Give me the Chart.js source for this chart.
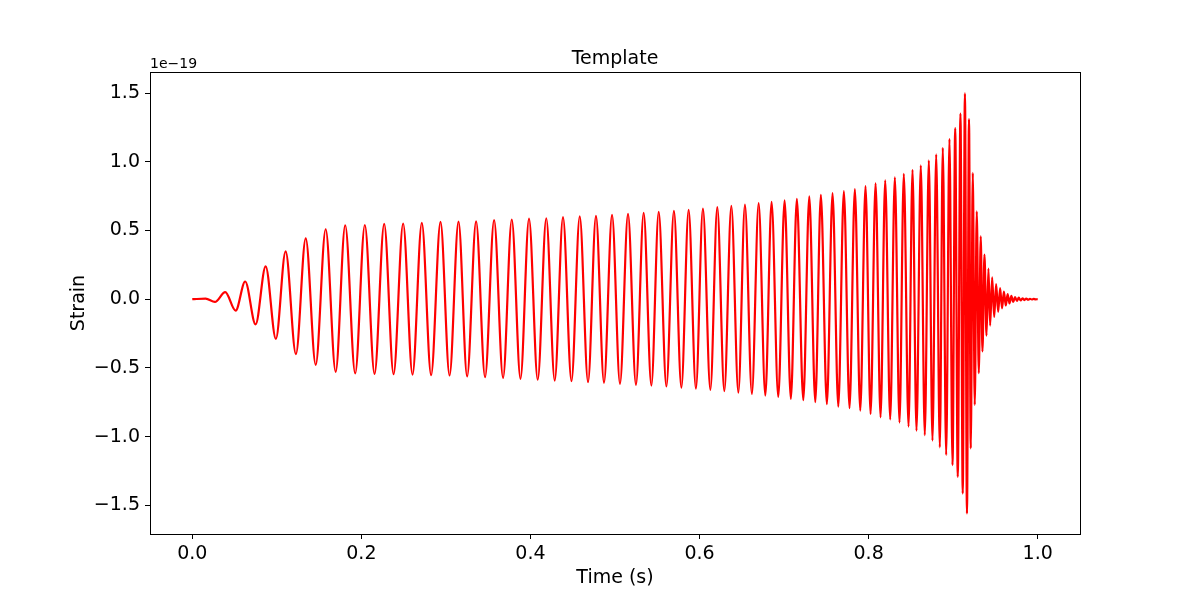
<!DOCTYPE html>
<html>
<head>
<meta charset="utf-8">
<script src="https://cdn.jsdelivr.net/npm/chart.js@4/dist/chart.umd.min.js"></script>
<style>
  html, body { margin: 0; padding: 0; background: #ffffff; }
  #wrap { width: 1200px; height: 600px; }
</style>
</head>
<body>
<div id="wrap"><canvas id="c" width="1200" height="600"></canvas></div>
<script>
// ---- Data (extrema of the waveform) ----
const chartTitle = "Template";
const xAxisLabel = "Time (s)";
const yAxisLabel = "Strain";
const strainExponentLabel = "1e\u221219";   // values below are in units of 1e-19

const peakTimes = [
  0, 0.0158, 0.0268, 0.0390, 0.0513, 0.0626, 0.0749, 0.0868, 0.0989, 0.1104,
  0.1226, 0.1342, 0.1460, 0.1578, 0.1696, 0.1809, 0.1927, 0.2041, 0.2156, 0.2270,
  0.2381, 0.2494, 0.2605, 0.2715, 0.2825, 0.2936, 0.3043, 0.3149, 0.3251, 0.3357,
  0.3463, 0.3570, 0.3676, 0.3779, 0.3882, 0.3983, 0.4086, 0.4187, 0.4287, 0.4385,
  0.4485, 0.4583, 0.4681, 0.4775, 0.4870, 0.4965, 0.5059, 0.5154, 0.5248, 0.5339,
  0.5430, 0.5517, 0.5608, 0.5697, 0.5785, 0.5871, 0.5957, 0.6040, 0.6128, 0.6210,
  0.6293, 0.6376, 0.6459, 0.6537, 0.6619, 0.6699, 0.6778, 0.6852, 0.6931, 0.7006,
  0.7080, 0.7151, 0.7227, 0.7298, 0.7369, 0.7435, 0.7506, 0.7573, 0.7641, 0.7707,
  0.7774, 0.7837, 0.7901, 0.7963, 0.8023, 0.8082, 0.8141, 0.8196, 0.8255, 0.8310,
  0.8365, 0.8416, 0.8472, 0.8519, 0.8566, 0.8617, 0.8664, 0.8712, 0.8755, 0.8799,
  0.8842, 0.8877, 0.8917, 0.8956, 0.8992, 0.9024, 0.9054, 0.9086, 0.9113, 0.9139,
  0.9163, 0.9187, 0.9208, 0.9232, 0.9255, 0.9279, 0.9303, 0.9326, 0.9346, 0.9370,
  0.9394, 0.9417, 0.9437, 0.9461, 0.9485, 0.9508, 0.9532,
  0.9555, 0.9578, 0.9600, 0.9622, 0.9644, 0.9666, 0.9688, 0.9710, 0.9732, 0.9754,
  0.9776, 0.9798, 0.9820, 0.9842, 0.9864, 0.9886, 0.9908, 0.9930, 0.9952, 0.9974,
  1.0
];

const peakStrain = [
  0, 0.004, -0.020, 0.052, -0.083, 0.129, -0.183, 0.239, -0.289, 0.348,
  -0.399, 0.443, -0.477, 0.509, -0.528, 0.538, -0.540, 0.540, -0.543, 0.548,
  -0.545, 0.551, -0.548, 0.555, -0.552, 0.562, -0.555, 0.565, -0.562, 0.567,
  -0.567, 0.575, -0.572, 0.580, -0.579, 0.587, -0.586, 0.589, -0.592, 0.597,
  -0.596, 0.602, -0.603, 0.606, -0.608, 0.613, -0.616, 0.621, -0.623, 0.628,
  -0.628, 0.635, -0.635, 0.643, -0.643, 0.650, -0.650, 0.660, -0.659, 0.670,
  -0.669, 0.679, -0.679, 0.689, -0.689, 0.699, -0.701, 0.708, -0.711, 0.719,
  -0.725, 0.730, -0.735, 0.748, -0.749, 0.759, -0.764, 0.772, -0.781, 0.786,
  -0.793, 0.801, -0.811, 0.823, -0.835, 0.843, -0.859, 0.865, -0.875, 0.886,
  -0.898, 0.912, -0.927, 0.942, -0.957, 0.974, -0.989, 1.011, -1.029, 1.054,
  -1.078, 1.102, -1.134, 1.166, -1.207, 1.244, -1.292, 1.351, -1.413, 1.497,
  -1.559, 1.310, -1.085, 0.920, -0.769, 0.640, -0.538, 0.458, -0.380, 0.324,
  -0.265, 0.222, -0.192, 0.159, -0.129, 0.110, -0.092,
  0.080, -0.066, 0.055, -0.045, 0.037, -0.030, 0.025, -0.020, 0.016, -0.013,
  0.011, -0.009, 0.007, -0.006, 0.005, -0.004, 0.003, -0.002, 0.002, -0.001,
  0.0
];

const xTickValues = [0.0, 0.2, 0.4, 0.6, 0.8, 1.0];
const yTickValues = [-1.5, -1.0, -0.5, 0.0, 0.5, 1.0, 1.5];
const xLimits = [-0.05, 1.05];
const yLimits = [-1.708, 1.653];

// ---- Build chart ----
const points = peakTimes.map((t, i) => ({ x: t, y: peakStrain[i] }));
const FONT = "'DejaVu Sans', 'Liberation Sans', sans-serif";
const fmt = v => (v < 0 ? '\u2212' : '') + Math.abs(v).toFixed(1);

const framePlugin = {
  id: 'frame',
  afterDraw(chart) {
    const { ctx, chartArea: a } = chart;
    ctx.save();
    ctx.strokeStyle = '#000';
    ctx.lineWidth = 1;
    ctx.strokeRect(Math.round(a.left) + 0.5, Math.round(a.top) + 0.5,
                   Math.round(a.right - a.left), Math.round(a.bottom - a.top));
    ctx.fillStyle = '#000';
    const cx = (a.left + a.right) / 2;
    ctx.font = "19px " + FONT;
    ctx.textAlign = 'center';
    ctx.textBaseline = 'alphabetic';
    ctx.fillText(chartTitle, cx, a.top - 8);
    ctx.fillText(xAxisLabel, cx, 583);
    ctx.save();
    ctx.translate(84, (a.top + a.bottom) / 2);
    ctx.rotate(-Math.PI / 2);
    ctx.fillText(yAxisLabel, 0, 0);
    ctx.restore();
    ctx.font = "14px " + FONT;
    ctx.textAlign = 'left';
    ctx.fillText(strainExponentLabel, a.left, a.top - 4);
    ctx.restore();
  }
};

new Chart(document.getElementById('c'), {
  type: 'line',
  data: {
    datasets: [{
      data: points,
      borderColor: '#ff0000',
      borderWidth: 2.2,
      pointRadius: 0,
      fill: false,
      cubicInterpolationMode: 'monotone'
    }]
  },
  options: {
    responsive: false,
    animation: false,
    devicePixelRatio: 1,
    layout: { padding: { left: 0, right: 120, top: 72, bottom: 0 } },
    plugins: { legend: { display: false }, tooltip: { enabled: false }, title: { display: false } },
    scales: {
      x: {
        type: 'linear',
        min: xLimits[0], max: xLimits[1],
        afterBuildTicks: axis => { axis.ticks = xTickValues.map(v => ({ value: v })); },
        afterFit: axis => { axis.height = 66; },
        grid: { drawOnChartArea: false, drawTicks: true, tickLength: 5, color: '#000', lineWidth: 1 },
        border: { display: true, color: '#000', width: 1 },
        ticks: { color: '#000', font: { family: FONT, size: 19 }, padding: 4,
                 maxRotation: 0, autoSkip: false, callback: v => fmt(v) }
      },
      y: {
        type: 'linear',
        min: yLimits[0], max: yLimits[1],
        afterBuildTicks: axis => { axis.ticks = yTickValues.map(v => ({ value: v })); },
        afterFit: axis => { axis.width = 150; },
        grid: { drawOnChartArea: false, drawTicks: true, tickLength: 5, color: '#000', lineWidth: 1 },
        border: { display: true, color: '#000', width: 1 },
        ticks: { color: '#000', font: { family: FONT, size: 19 }, padding: 5,
                 autoSkip: false, callback: v => fmt(v) }
      }
    }
  },
  plugins: [framePlugin]
});
</script>
</body>
</html>
